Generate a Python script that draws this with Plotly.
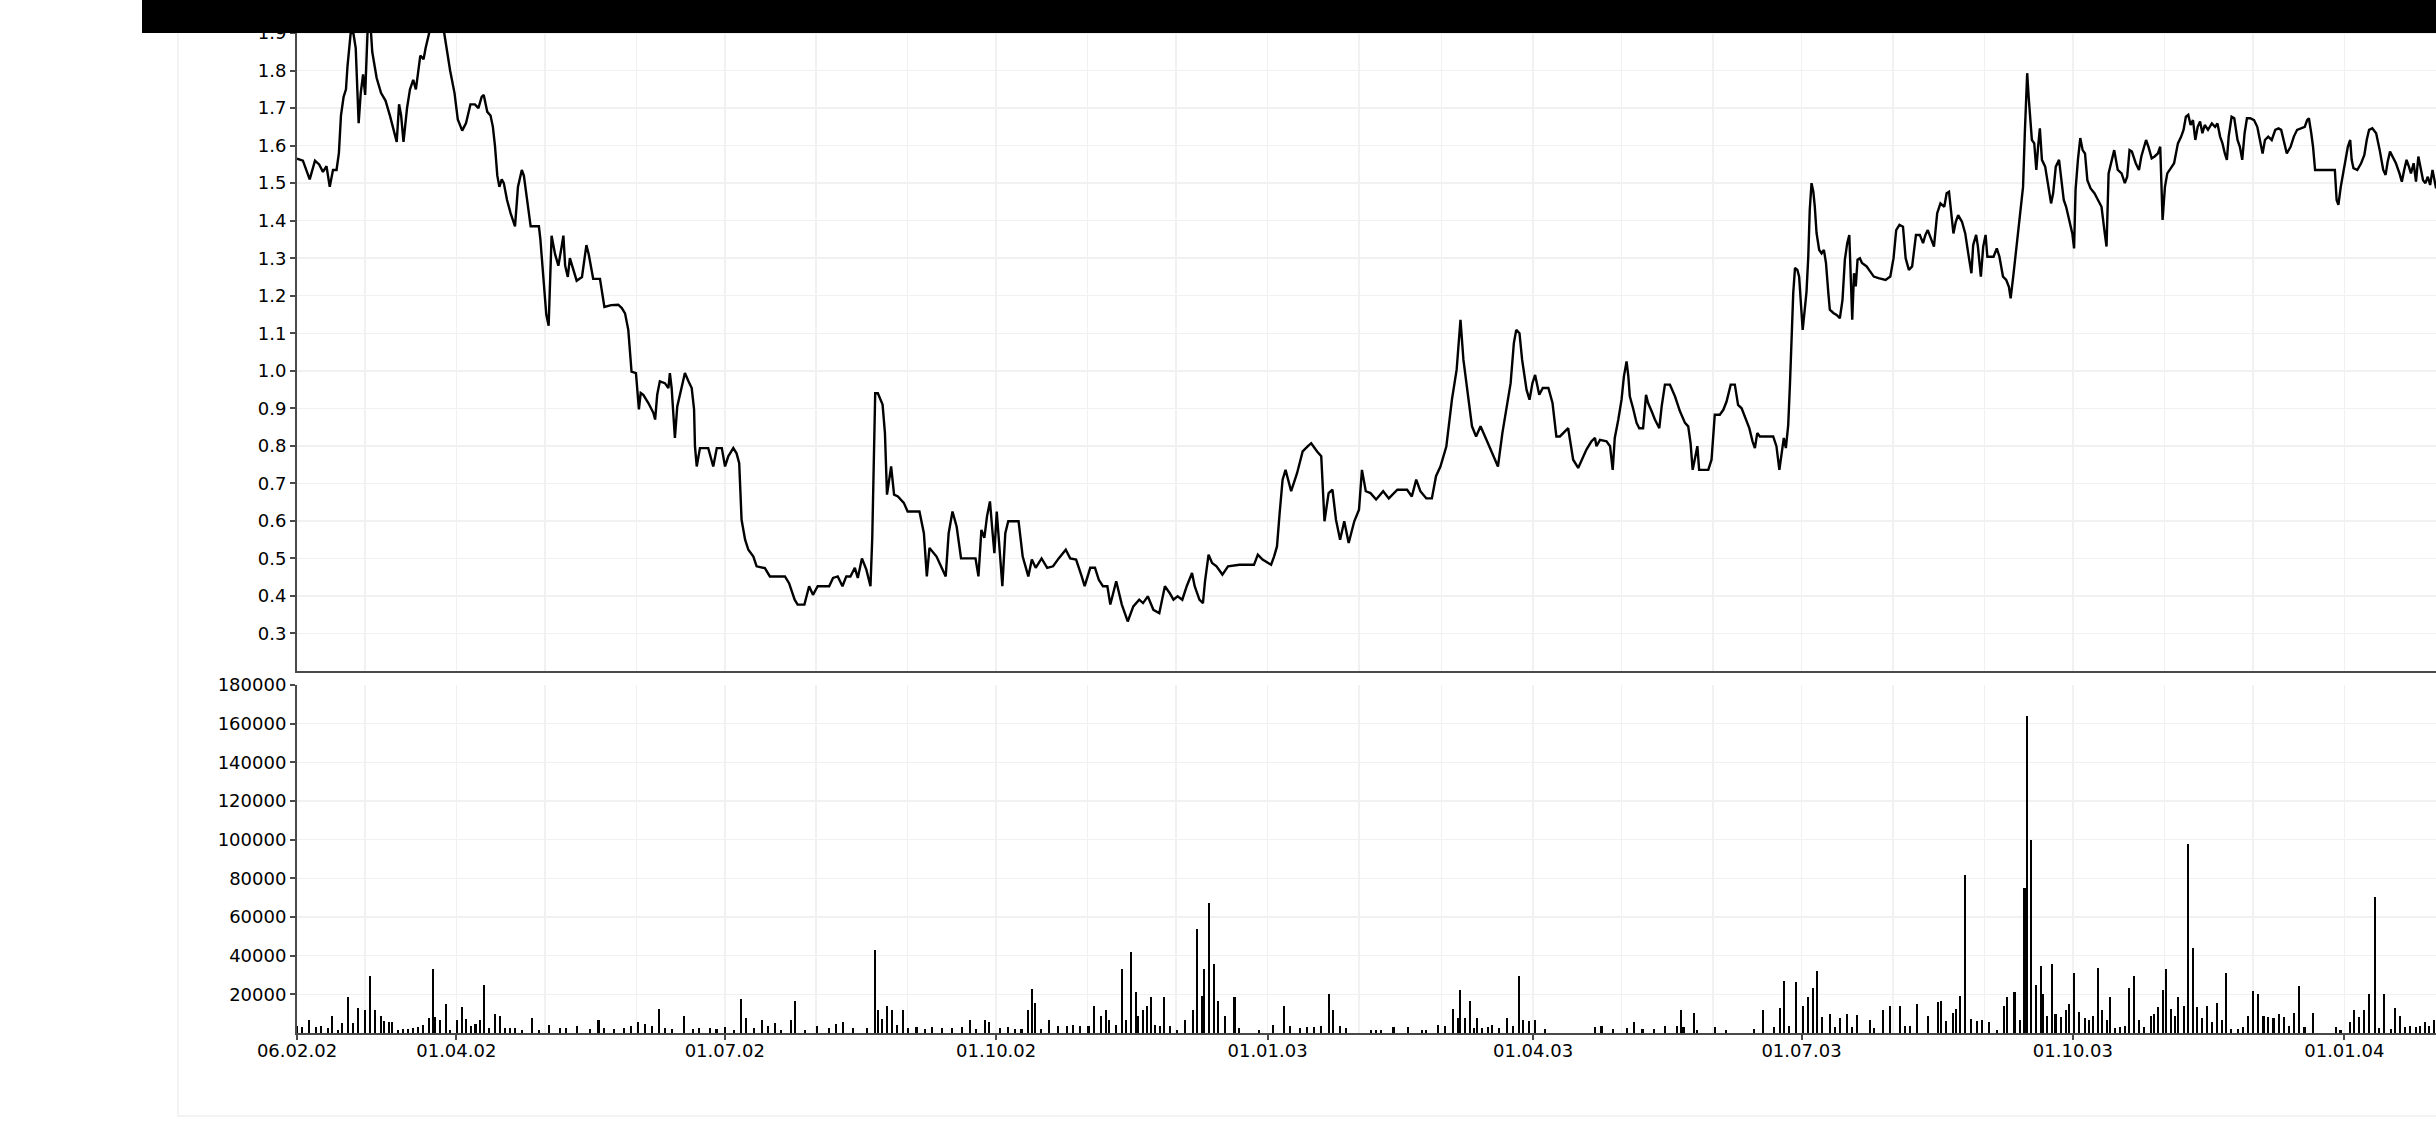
import pandas as pd
import plotly.graph_objects as go

# ---------------- data ----------------
START = "2002-02-06"
END = "2004-02-01 02:00"

# closing price: days since 06.02.02 and value
price_day = [
    0, 2, 4.3, 6.1, 7.5, 8.8, 10, 11.1, 12.2, 13.4, 14.2, 14.9, 15.8, 16.6, 17.1, 18.2, 19.1, 19.9,
    20.9, 21.6, 22.4, 23.1, 23.9, 24.7, 25.5, 27, 28.5, 30, 31.5, 33, 33.8, 34.6, 35.3, 36.1, 37.3,
    38.3, 39.4, 40.3, 40.9, 41.8, 42.9, 43.6, 44.8, 45.9, 47.9, 49.7, 50.9, 51.9, 53.4, 54.5, 56.0,
    57.3, 58.8, 60.3, 61.5, 62.6, 63.3, 64.5, 65.6, 66.4, 67.1, 67.9, 68.6, 69.4, 70.1, 71.2, 72.4,
    73.9, 74.9, 76.2, 76.9, 78.0, 79.2, 80.0, 82.0, 82.5, 83.7, 84.5, 85.3, 85.7, 86.3, 87.5, 88.6,
    89.8, 90.3, 90.9, 91.8, 92.5, 93.6, 94.8, 96.6, 98.1, 98.9, 100.4, 102.7, 104.2,
    106.5, 108.9, 110.1, 111.2, 112.3, 112.9, 113.4, 114.9, 115.4, 115.9, 116.5, 117.4, 119.1, 120.8,
    121.4, 122.1, 123.0, 124.7, 125.9, 126.4, 127.0, 127.6, 128.1, 128.9, 130.1, 131.5, 132.7, 133.8,
    134.6, 134.9, 135.5, 136.6, 139.4, 141.1, 142.3, 144.0, 145.1, 146.2, 147.9, 149.0, 149.9, 150.2,
    150.7, 151.9, 153.0, 154.7, 155.8, 158.6, 160.3,
    161.5, 165.4, 166.8, 168.7, 169.7, 172.0, 173.6, 174.9, 176.5, 180.4, 181.7, 183.3, 184.9, 186.2,
    187.6, 189.1, 190.1, 191.5, 193.0, 194.4, 195.0, 196.0, 196.9, 198.5, 199.3, 200.0, 201.4, 202.4,
    203.7, 205.7, 207.0, 211.0, 212.5, 213.5, 214.4, 216.8, 218.3, 219.9, 220.9, 222.2, 223.6, 225.1,
    230.0, 231.0, 232.0, 233.0, 233.9, 234.9, 235.8, 236.4, 237.2, 238.4, 239.1, 240.1, 241.1, 244.6,
    246.0, 247.9, 249.1, 250.4, 252.4, 254.3, 256.3, 258.2, 260.6, 262.1, 264.1, 266.0, 267.0, 268.9,
    270.5, 271.8, 273.2, 274.7, 275.7, 277.7, 279.6, 281.6, 283.5, 285.5, 286.8, 288.4, 290.3, 292.3,
    294.2, 295.8, 297.1, 298.5, 300.1, 301.6, 303.4, 304.3, 305.9, 307.1, 307.8, 309.0, 310.2, 311.7,
    313.7, 315.6, 319.5, 324.4, 325.7, 327.3, 330.2, 331.2, 332.2, 333.1, 334.1, 335.1, 337.0, 339.0,
    340.9, 342.5, 343.8, 345.8, 347.2, 348.3, 349.7, 351.0, 352.2, 353.6, 355.0, 356.5, 358.4, 360.0,
    361.0, 362.3, 363.9, 365.8, 368.2, 370.1, 373.0, 376.3, 377.9, 379.4, 380.8, 382.8, 384.7, 386.1,
    387.6, 389.6, 391.5, 393.1, 394.4, 395.4, 397.0, 398.3, 399.7, 401.2, 403.2, 405.1, 407.1, 408.6,
    410.0, 411.4, 412.5, 413.3, 414.4, 415.3, 416.8, 417.8, 418.8, 419.7, 421.1, 422.3, 424.2, 425.6,
    426.9, 428.1, 430.9, 432.6, 434.3, 437.1, 438.8, 440.0, 440.5, 441.7,
    443.9, 445.1, 446.0, 446.7, 447.9, 449.0, 449.8, 450.7, 451.3, 451.8, 452.9, 454.1, 455.0, 456.3,
    457.3, 458.0, 459.2, 460.3, 461.8, 462.6, 463.7, 465.4, 467.1, 468.8, 470.5, 471.6, 472.4, 473.1,
    473.9, 474.7, 475.3, 478.4, 479.5, 480.6, 482.3, 483.5, 484.6, 486.0, 487.4, 488.5, 489.7, 490.8,
    492.3, 493.4, 494.2, 495.0, 495.9, 500.4, 501.5, 502.5, 503.2, 504.0, 504.7, 505.5, 506.1, 506.6,
    507.2, 507.8, 508.6, 509.2, 509.7, 510.4, 511.2, 511.7, 512.3, 512.8, 513.4, 514.0, 514.5, 515.1,
    516.0, 516.8, 517.6, 518.3, 519.1, 519.6, 520.8, 521.9, 523.0, 523.9, 524.7, 525.5, 526.2, 526.6,
    527.2, 527.8, 528.4, 529.0, 529.8,
    530.5, 532.1, 532.9, 534.5, 536.1, 538.5, 540.1, 541.2, 542.1, 543.2, 544.4, 545.3, 546.4, 547.5,
    548.8, 550.1, 551.2, 552.0, 552.8, 553.9, 554.9, 556.0, 557.1, 558.4, 559.2, 560.0, 560.7, 561.5,
    562.3, 563.1, 564.4, 565.5, 566.6, 567.6, 568.2, 569.2, 569.8, 570.8, 571.6, 572.4, 573.0, 574.0,
    575.1, 576.2, 577.1, 578.3, 579.4, 580.3, 580.9, 581.9, 582.5, 583.5, 584.6, 585.1, 585.7, 586.2,
    586.5, 587.0, 587.5, 588.1, 588.9, 589.6, 590.2, 590.8, 591.5, 592.6, 593.7, 594.6, 595.3, 596.2,
    597.3, 598.1, 598.9, 599.7, 600.8, 601.8, 602.4, 602.9, 603.7, 604.5, 605.3, 606.1, 606.9, 608.0,
    609.3, 610.6, 611.7, 612.8, 613.4, 614.1, 615.0, 616.0, 617.2, 618.5, 619.6, 620.4, 621.2, 622.0,
    623.3, 624.4, 625.2, 626.0, 626.8, 627.6, 628.7, 629.7, 630.8, 631.6, 632.4, 633.2, 634.0, 635.2,
    636.3, 637.6, 638.7, 639.5, 640.3, 641.1, 641.9, 642.7, 643.5, 644.3, 645.1, 645.9, 646.7, 647.8,
    649.1, 650.2, 651.0, 651.9, 652.7, 653.5, 654.2, 654.8, 655.8, 656.7, 657.8, 658.6, 659.4, 660.2,
    661.0, 662.1, 663.4, 664.5, 665.5, 666.3, 667.1, 668.2, 669.4, 670.6, 671.7, 672.6, 673.7, 674.5,
    675.8, 676.9, 678.0, 679.3, 680.6, 681.4, 682.0, 682.8, 683.4, 684.1, 690.8, 691.4, 692.0, 692.8,
    693.6, 694.4, 695.2, 696.0, 696.5, 697.1, 698.4, 699.7, 700.8, 701.6, 702.4, 703.5, 704.8, 706.0,
    707.2, 708.0, 708.7, 709.5, 710.3, 711.5, 712.7, 713.5, 714.3, 715.1, 715.9, 716.6, 717.5, 718.3,
    719.1, 719.9, 720.7, 721.5, 722.3, 723.1, 723.9, 725.1,
]
price_val = [
    1.565, 1.56, 1.51, 1.56, 1.55, 1.53, 1.545, 1.49, 1.535, 1.535, 1.58, 1.68, 1.73, 1.75, 1.81, 1.90, 1.90, 1.86,
    1.66, 1.74, 1.79, 1.735, 1.90, 1.95, 1.85, 1.78, 1.74, 1.72, 1.68, 1.63, 1.61, 1.71, 1.68, 1.61, 1.70,
    1.75, 1.775, 1.75, 1.785, 1.84, 1.83, 1.86, 1.90, 1.95, 1.96, 1.91, 1.85, 1.80, 1.74, 1.67, 1.64,
    1.66, 1.71, 1.71, 1.70, 1.73, 1.735, 1.69, 1.68, 1.65, 1.60, 1.52, 1.49, 1.51, 1.50, 1.455, 1.42,
    1.385, 1.49, 1.535, 1.52, 1.46, 1.385, 1.385, 1.385, 1.35, 1.225, 1.15, 1.12, 1.24, 1.36, 1.31, 1.28,
    1.335, 1.36, 1.28, 1.25, 1.30, 1.27, 1.24, 1.25, 1.335, 1.31, 1.245, 1.245, 1.17,
    1.175, 1.176, 1.167, 1.153, 1.109, 1.034, 0.998, 0.994, 0.954, 0.897, 0.941, 0.936, 0.914, 0.888,
    0.87, 0.936, 0.972, 0.967, 0.954, 0.994, 0.954, 0.87, 0.821, 0.905, 0.949, 0.994, 0.972, 0.954,
    0.897, 0.799, 0.745, 0.794, 0.794, 0.745, 0.794, 0.794, 0.745, 0.772, 0.794, 0.78, 0.754, 0.683,
    0.603, 0.55, 0.523, 0.505, 0.479, 0.474, 0.452,
    0.452, 0.452, 0.434, 0.39, 0.377, 0.377, 0.426, 0.403, 0.426, 0.426, 0.448, 0.452, 0.426, 0.452,
    0.452, 0.475, 0.448, 0.50, 0.47, 0.426, 0.554, 0.94, 0.94, 0.91, 0.834, 0.67, 0.745, 0.67,
    0.665, 0.648, 0.625, 0.625, 0.567, 0.452, 0.528, 0.505, 0.479, 0.452, 0.567, 0.625, 0.585, 0.50,
    0.50, 0.452, 0.576, 0.555, 0.612, 0.652, 0.567, 0.514, 0.625, 0.497, 0.426, 0.567, 0.599, 0.599,
    0.505, 0.452, 0.497, 0.475, 0.50, 0.475, 0.479, 0.50, 0.523, 0.50, 0.497, 0.452, 0.426, 0.475,
    0.475, 0.443, 0.426, 0.426, 0.377, 0.439, 0.377, 0.332, 0.372, 0.39, 0.381, 0.399, 0.363, 0.354,
    0.426, 0.408, 0.39, 0.399, 0.39, 0.426, 0.461, 0.426, 0.39, 0.381, 0.439, 0.51, 0.488, 0.479,
    0.457, 0.479, 0.483, 0.483, 0.51, 0.497, 0.483, 0.505, 0.532, 0.621, 0.71, 0.736, 0.679, 0.727,
    0.785, 0.798, 0.807, 0.785, 0.772, 0.599, 0.674, 0.683, 0.603, 0.55, 0.599, 0.541, 0.599, 0.63,
    0.736, 0.679, 0.674, 0.657, 0.679, 0.66, 0.683, 0.683, 0.665, 0.71, 0.679, 0.66, 0.66, 0.719,
    0.745, 0.798, 0.923, 1.003, 1.136, 1.029, 0.923, 0.852, 0.825, 0.852, 0.816, 0.781, 0.745, 0.834,
    0.905, 0.967, 1.074, 1.109, 1.10, 1.029, 0.949, 0.923, 0.967, 0.989, 0.936, 0.954, 0.954, 0.914,
    0.825, 0.825, 0.847, 0.763, 0.741, 0.79, 0.812, 0.821, 0.799, 0.816,
    0.812, 0.799, 0.736, 0.821, 0.87, 0.923, 0.985, 1.025, 0.985, 0.932, 0.90, 0.861, 0.847, 0.847,
    0.936, 0.914, 0.892, 0.87, 0.847, 0.905, 0.963, 0.963, 0.932, 0.892, 0.861, 0.852, 0.807, 0.736,
    0.767, 0.799, 0.736, 0.736, 0.763, 0.883, 0.883, 0.896, 0.918, 0.963, 0.963, 0.909, 0.90, 0.878,
    0.847, 0.812, 0.794, 0.834, 0.825, 0.825, 0.799, 0.736, 0.781, 0.821, 0.794, 0.856, 0.967, 1.083,
    1.207, 1.274, 1.269, 1.251, 1.189, 1.109, 1.171, 1.211, 1.305, 1.429, 1.50, 1.478, 1.438, 1.367,
    1.322, 1.313, 1.322, 1.287, 1.207, 1.163, 1.154, 1.149, 1.14, 1.189, 1.296, 1.34, 1.362, 1.287,
    1.136, 1.26, 1.225, 1.296, 1.30,
    1.287, 1.278, 1.269, 1.251, 1.247, 1.242, 1.251, 1.30, 1.375, 1.389, 1.384, 1.30, 1.269, 1.278,
    1.362, 1.362, 1.34, 1.362, 1.375, 1.349, 1.331, 1.42, 1.446, 1.437, 1.473, 1.477, 1.42, 1.366,
    1.397, 1.415, 1.397, 1.366, 1.309, 1.26, 1.335, 1.362, 1.331, 1.251, 1.331, 1.362, 1.304, 1.304,
    1.304, 1.326, 1.304, 1.251, 1.242, 1.224, 1.193, 1.26, 1.304, 1.375, 1.455, 1.49, 1.633, 1.722,
    1.793, 1.73, 1.677, 1.615, 1.606, 1.535, 1.597, 1.646, 1.562, 1.544, 1.49, 1.446, 1.473, 1.544,
    1.562, 1.508, 1.455, 1.437, 1.402, 1.366, 1.326, 1.482, 1.562, 1.62, 1.588, 1.579, 1.508, 1.486,
    1.473, 1.455, 1.437, 1.366, 1.331, 1.526, 1.553, 1.588, 1.535, 1.526, 1.50, 1.517, 1.588, 1.584,
    1.553, 1.535, 1.571, 1.597, 1.615, 1.597, 1.566, 1.571, 1.579, 1.597, 1.402, 1.49, 1.526, 1.54,
    1.553, 1.606, 1.624, 1.642, 1.677, 1.682, 1.655, 1.668, 1.615, 1.65, 1.664, 1.633, 1.655, 1.642,
    1.659, 1.65, 1.659, 1.624, 1.606, 1.579, 1.562, 1.624, 1.677, 1.673, 1.615, 1.597, 1.562, 1.633,
    1.673, 1.673, 1.668, 1.65, 1.615, 1.579, 1.615, 1.624, 1.615, 1.642, 1.646, 1.642, 1.606, 1.579,
    1.597, 1.624, 1.642, 1.646, 1.65, 1.668, 1.673, 1.633, 1.597, 1.535, 1.535, 1.455, 1.442, 1.49,
    1.526, 1.553, 1.597, 1.615, 1.562, 1.54, 1.535, 1.553, 1.575, 1.615, 1.642, 1.646, 1.633, 1.588,
    1.535, 1.522, 1.557, 1.584, 1.571, 1.553, 1.526, 1.504, 1.535, 1.562, 1.544, 1.526, 1.553, 1.504,
    1.571, 1.535, 1.508, 1.50, 1.517, 1.495, 1.535, 1.486,
]

# traded volume: days since 06.02.02 and value
vol_day = [
    0, 1.8, 4.1, 6.4, 8.0, 10.4, 12, 13.8, 15.4, 17.3, 19.1, 20.8, 23.1, 24.9, 26.5, 28.4, 29.5, 31.2,
    32.3, 34.2, 35.8, 37.5, 39.3, 41.1, 42.7, 44.6, 46.2, 46.9, 48.5, 50.4, 52, 54.3, 55.9, 57.3, 58.9,
    60.5, 61.9, 63.3, 65.2, 67, 68.9, 70.5, 72.1, 74, 76.3, 79.8, 82.1, 85.5, 89, 91.3, 94.8, 99.4,
    102.2, 104.0, 107.5, 111, 113.3, 115.6, 118, 120.2, 122.8, 124.8, 127.2, 131.3, 134.1, 136.4,
    139.9, 142.2, 145.2, 148, 150.5, 152.2, 155, 157.7, 159.6, 161.9, 164.2, 167.6, 168.8, 172.3,
    176.2, 180.4, 182.7, 185, 188.5, 193.1, 195.9, 197.0, 198.4, 200.0, 201.7, 203.5, 205.4, 207.0,
    210, 212.8, 215.1, 218.5, 222, 225.5, 228.0, 230.1, 233.1, 234.7, 238.2, 241, 243.3, 245.6, 247.9,
    249.3, 250.2, 252.1, 254.9, 257.9, 260.9, 263.2, 265.5, 268.3, 270.1, 272.4, 274.1, 275.2, 277.5,
    279.6, 281.0, 282.8, 284.5, 285.2, 286.8, 288.0, 289.6, 291.0, 292.6, 294.0, 296.0, 298.3, 301.1,
    303.7, 305.0, 306.9, 307.6, 309.3, 310.8, 312.2, 314.5, 317.8, 319.2, 326.1, 330.7, 334.7, 336.5,
    340, 342.3, 344.6, 347, 349.7, 351.1, 353.4, 355.7,
    364.2, 365.9, 367.5, 371.7, 376.7, 381.4, 382.8, 386.7, 389, 392, 393.6, 394.3, 396, 397.6, 399,
    399.9, 401.7, 403.6, 405.2, 407.5, 410.3, 412.1, 414.2, 415.6, 417.5, 419.8, 423, 439.9, 442.2,
    446.1, 450.8, 453.3, 456.1, 460, 463.7, 467.7, 469.3, 470, 473.4, 474.6, 480.8, 484.5, 493.8, 497,
    500.7, 502.8, 504.2, 505.8, 508.1, 510.4, 512.3, 513.9, 515.1, 516.9, 519.7, 521.5, 523.2, 525.5,
    527.1, 528.9, 533.1, 534.7, 537.7, 540.1, 543.3, 545.1, 546.8, 549.1, 552.8, 556.2, 557.2, 559.0,
    561.3, 562.5, 563.6, 565.5, 567.4, 569.4, 571.3, 573.4, 576.4, 578.7, 579.8, 582.2, 584.0, 585.6,
    586.5, 587.9, 589.6, 591.1, 592.0, 593.3, 594.9, 596.1, 597.9, 599.5, 600.7, 602.3, 604.1, 606,
    607.6, 608.8, 610.4, 611.8, 613.4, 614.5, 616.4, 618, 619.6, 621.0, 622.6, 624.3, 626.1, 628.4,
    629.6, 630.7, 632.4, 633.7, 635.3, 636.5, 637.7, 639.5, 641.1, 642.8, 644.1, 645.8, 647.4, 649.2,
    650.9, 652.5, 653.9, 655.7, 658.0, 659.6, 661.5, 663.1, 664.9, 666.6, 668.2, 670.0, 671.9, 673.5,
    675.2, 677.0, 678.6, 680.5, 683.5, 691.3, 692.7, 696.0, 697.4, 699.0, 700.6, 702.4, 704.3, 705.9,
    707.5, 709.8, 711.2, 712.9, 714.5, 716.3, 718.2, 719.8, 721.4, 722.8, 724.4,
]
vol_val = [
    3500, 3100, 6900, 3100, 3500, 2600, 9000, 1700, 5200, 18600, 5200, 13000, 11700, 29700, 11700, 9000, 6000, 5500,
    5500, 1700, 2000, 2000, 2600, 3100, 4300, 7800, 33200, 8300, 6900, 15000, 1700, 6900, 13500, 7300, 3500,
    4800, 6900, 24700, 2600, 10000, 8600, 2600, 2600, 2600, 1700, 7800, 1700, 4300, 2600, 2600, 3800, 2100,
    6600, 2600, 2100, 2600, 3500, 5500, 4800, 3500, 12400, 2600, 2100, 8600, 2100, 2600,
    2600, 2100, 3100, 1700, 17600, 7800, 2600, 6900, 3800, 5200, 1700, 6900, 16800, 1700,
    3500, 2600, 4800, 5500, 2600, 2600, 42800, 11700, 7300, 14200, 11700, 4300, 11700, 2600,
    3100, 2100, 3100, 2600, 2600, 3100, 6900, 2100, 6900, 5500, 2600, 3100, 2100, 2100, 11700,
    22800, 15500, 2100, 6900, 3800, 3800, 4300, 3800, 3500, 14200, 9000, 11700, 6900, 4300,
    33200, 6900, 41800, 21100, 8600, 11700, 14200, 18600, 4300, 3500, 18600, 3800, 1700, 6900,
    11700, 54000, 19000, 33200, 67000, 35900, 16400, 9000, 18600, 2600, 1700, 4300, 13800, 3500,
    2600, 3100, 3100, 3500, 20400, 11700, 3800, 2600,
    1700, 1700, 1700, 3100, 3100, 1700, 1700, 4300, 3800, 12400, 7800, 22500, 7800, 16400, 2600,
    7800, 2600, 3100, 4300, 2600, 7800, 3800, 29700, 6900, 6000, 6600, 2100, 3100, 3800,
    2100, 2600, 5500, 2100, 2100, 3800, 3800, 11700, 3100, 10400, 1700, 3100, 1700, 2100, 11700,
    3100, 13000, 27100, 3800, 26300, 14200, 18600, 23300, 32000, 8300, 10000, 3100, 7800, 10000,
    3100, 9500, 6900, 2600, 11700, 14200, 13800, 3800, 3500, 15200, 9000, 15900, 16400, 6000,
    10400, 12400, 19000, 81500, 7300, 6000, 6900, 5500, 1700, 14200, 18600, 21100, 6900, 75000,
    164000, 100000, 25000, 34500, 20400, 8600, 35900, 10000, 8300, 11700, 15200, 31100, 10700, 7800,
    6900, 8600, 33700, 12100, 6900, 18600, 2600, 3100, 3800, 23300, 29700, 6900, 3100, 9000,
    10000, 13500, 22500, 33200, 12400, 9000, 18600, 13800, 98000, 44000, 13500, 7800, 14200, 5500,
    15500, 6900, 31100, 2100, 2100, 3100, 9000, 21600, 20400, 8600, 8300, 7800, 10000, 8300,
    3500, 10400, 24200, 3100, 10400, 3100, 1700, 5500, 11700, 8300, 11700, 20400, 70500, 2600,
    20400, 2100, 13000, 9000, 3100, 3800, 3100, 3800, 5500, 3500, 6900,
]

tick_dates = ["2002-02-06", "2002-04-01", "2002-07-01", "2002-10-01", "2003-01-01",
              "2003-04-01", "2003-07-01", "2003-10-01", "2004-01-01"]
tick_text = ["06.02.02", "01.04.02", "01.07.02", "01.10.02", "01.01.03",
             "01.04.03", "01.07.03", "01.10.03", "01.01.04"]
price_ticks = [0.3, 0.4, 0.5, 0.6, 0.7, 0.8, 0.9, 1.0, 1.1, 1.2, 1.3, 1.4, 1.5, 1.6, 1.7, 1.8, 1.9]
vol_ticks = [20000, 40000, 60000, 80000, 100000, 120000, 140000, 160000, 180000]

# ---------------- figure ----------------
W, H = 2436, 1125
start = pd.Timestamp(START)
price_dates = start + pd.to_timedelta(price_day, unit="D")
vol_dates = start + pd.to_timedelta(vol_day, unit="D")

FONT = dict(family="DejaVu Sans", size=18, color="#000000")
GRID = "#f1f1f1"
AXC = "#4a4a4a"

fig = go.Figure()
fig.add_trace(go.Scatter(x=price_dates, y=price_val, mode="lines",
                         line=dict(color="black", width=2.4), xaxis="x", yaxis="y",
                         showlegend=False, hoverinfo="skip"))
fig.add_trace(go.Bar(x=vol_dates, y=vol_val, width=0.7 * 86400000,
                     marker=dict(color="black", line=dict(width=0)), xaxis="x2", yaxis="y2",
                     showlegend=False, hoverinfo="skip"))

xdom = [297 / W, 1.0]
common_x = dict(type="date", range=[START, END], domain=xdom, showline=True, linecolor=AXC,
                linewidth=2, showgrid=True, gridcolor=GRID, gridwidth=1.5, zeroline=False,
                automargin=False, tickmode="array", tickvals=tick_dates,
                minor=dict(tick0="2002-01-01", dtick="M1", showgrid=True, gridcolor=GRID,
                           gridwidth=1.5, ticks=""))
common_y = dict(showline=True, linecolor=AXC, linewidth=2, ticks="outside", ticklen=5,
                tickwidth=2, tickcolor=AXC, showgrid=True, gridcolor=GRID, gridwidth=1.5,
                zeroline=False, automargin=False, ticklabelstandoff=0, tickmode="array")

fig.update_layout(
    width=W, height=H, autosize=False,
    margin=dict(l=0, r=0, t=0, b=0, pad=0, autoexpand=False),
    paper_bgcolor="white", plot_bgcolor="white",
    font=FONT, bargap=0, showlegend=False,
    xaxis=dict(common_x, anchor="y", showticklabels=False, ticks=""),
    xaxis2=dict(common_x, anchor="y2", matches="x", ticktext=tick_text, ticks="outside",
                ticklen=5, tickwidth=2, tickcolor=AXC, ticklabelstandoff=-5),
    yaxis=dict(common_y, domain=[1 - 671 / H, 1.0], range=[0.2, 1.988],
               tickvals=price_ticks, ticktext=[f"{v:.1f}" for v in price_ticks]),
    yaxis2=dict(common_y, domain=[1 - 1033 / H, 1 - 685 / H], range=[0, 180000],
                tickvals=vol_ticks, ticktext=[str(v) for v in vol_ticks]),
    shapes=[
        dict(type="rect", xref="paper", yref="paper", x0=178 / W, x1=1.02,
             y0=1 - 1116 / H, y1=1.02, line=dict(color="#f0f0f0", width=1.5),
             fillcolor="rgba(0,0,0,0)", layer="below"),
        dict(type="rect", xref="paper", yref="paper", x0=142 / W, x1=1.0,
             y0=1 - 33 / H, y1=1.0, line=dict(width=0), fillcolor="black", layer="above"),
    ],
)

fig.write_html("out.html", config={"displayModeBar": False, "staticPlot": True},
               post_script="document.body.style.margin='0';document.body.style.overflow='hidden';")
